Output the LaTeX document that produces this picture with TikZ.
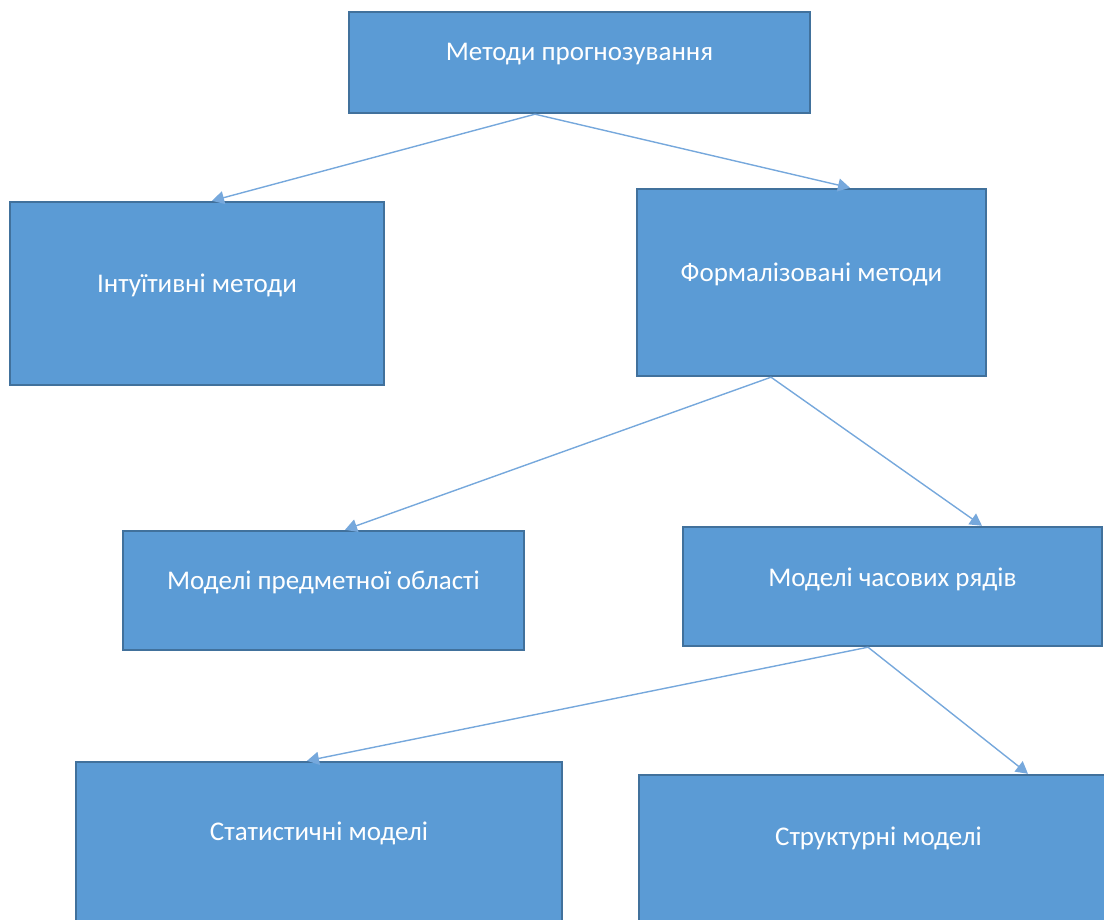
\documentclass[tikz,border=0pt]{standalone}
\usepackage{fontspec}
\setmainfont{Carlito}
\usetikzlibrary{arrows.meta}
\definecolor{boxfill}{HTML}{5B9BD5}
\definecolor{boxline}{HTML}{41719C}
\definecolor{conn}{RGB}{118,168,220}
\tikzset{
  box/.style={rectangle, draw=boxline, line width=2.4pt, fill=boxfill, inner sep=0pt},
  lbl/.style={text=white, inner sep=0pt, font=\fontsize{27}{31}\selectfont},
  conn/.style={draw=conn, line width=1.4pt, -{Triangle[length=12pt,width=13pt]}}
}
\begin{document}
\begin{tikzpicture}[x=1pt,y=-1pt]
\useasboundingbox (0,0) rectangle (1104,920);
\clip (0,0) rectangle (1104,920);
\node[box, minimum width=461pt, minimum height=101pt] (a) at (579.5,62.5) {};
\node[box, minimum width=374pt, minimum height=183pt] (b) at (197,293.5) {};
\node[box, minimum width=349pt, minimum height=187pt] (c) at (811.5,282.5) {};
\node[box, minimum width=401pt, minimum height=119pt] (d) at (323.5,590.5) {};
\node[box, minimum width=419pt, minimum height=119pt] (e) at (892.5,586.5) {};
\node[box, minimum width=486pt, minimum height=163pt] (f) at (319,843.5) {};
\node[box, minimum width=473pt, minimum height=155pt] (g) at (875.5,852.5) {};
\node[lbl] (at) at ([yshift=8pt]a.center) {Методи прогнозування};
\node[lbl] (bt) at ([yshift=8.5pt]b.center) {Інтуїтивні методи};
\node[lbl] (ct) at ([yshift=8pt]c.center) {Формалізовані методи};
\node[lbl] (dt) at ([yshift=8pt]d.center) {Моделі предметної області};
\node[lbl] (et) at ([yshift=7pt]e.center) {Моделі часових рядів};
\node[lbl] (ft) at ([yshift=-72.5pt]f.north) {Статистичні моделі};
\node[lbl] (gt) at ([yshift=-64.5pt, xshift=3pt]g.north) {Структурні моделі};
\draw[conn] ([xshift=-44.5pt]a.south) -- ([xshift=15pt]b.north);
\draw[conn] ([xshift=-44.5pt]a.south) -- ([xshift=38.5pt]c.north);
\draw[conn] ([xshift=-40.5pt]c.south) -- ([xshift=21.5pt]d.north);
\draw[conn] ([xshift=-40.5pt]c.south) -- ([xshift=89.5pt]e.north);
\draw[conn] ([xshift=-24.5pt]e.south) -- ([xshift=-12pt]f.north);
\draw[conn] ([xshift=-24.5pt]e.south) -- ([xshift=152.5pt]g.north);
\end{tikzpicture}
\end{document}
